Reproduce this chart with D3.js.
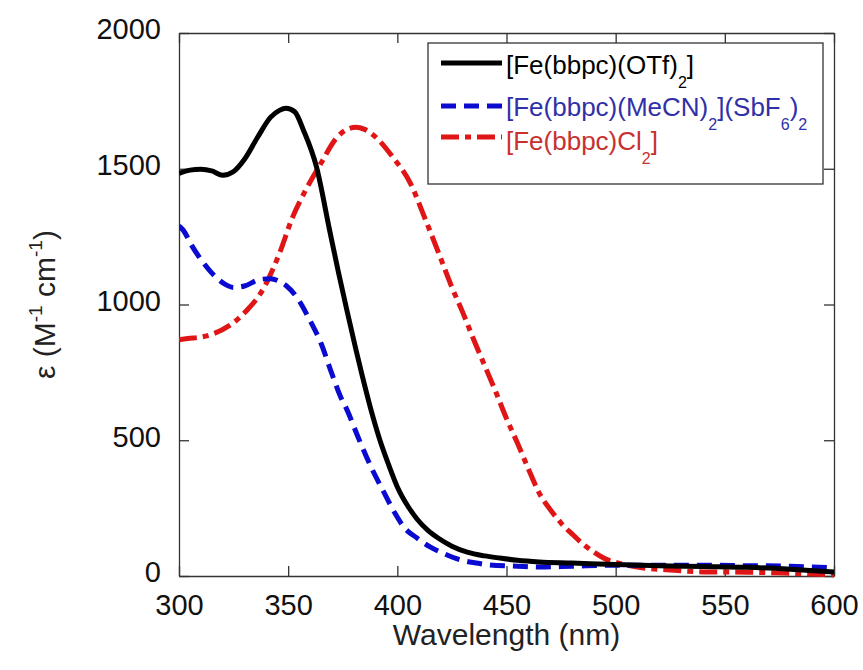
<!DOCTYPE html>
<html>
<head>
<meta charset="utf-8">
<script src="https://cdn.jsdelivr.net/npm/d3@7"></script>
<style>
  body { margin: 0; background: #fff; }
  text { font-family: Arial, "Liberation Sans", sans-serif; }
</style>
</head>
<body>
<svg id="chart" width="863" height="670"></svg>
<script>
// wavelengths (nm) and extinction (M-1 cm-1)
var otfNm  = [300,305,310,315,320,325,330,336,342,346,349,353,357,363,369,373,377,381,384,388,392,396,400,405,409,414,419,425,432,440,447,455,465,480,500,520,540,560,580,600];
var otfEps = [1483,1495,1498,1492,1476,1490,1535,1616,1690,1715,1723,1710,1642,1506,1273,1120,975,835,735,610,501,410,328,255,210,168,138,110,88,74,66,58,52,48,42,38,35,32,25,15];

var mecnNm  = [300,302,306,311,317,321,325,330,337,342,346,349,354,360,365,370,374,377,382,388,394,399,403,409,415,422,429,436,442,455,465,480,500,520,540,560,580,600];
var mecnEps = [1290,1273,1215,1155,1100,1075,1063,1068,1092,1095,1085,1070,1026,941,858,745,660,611,512,401,306,230,180,140,107,80,59,48,41,36,33,36,40,40,40,38,36,30];

var clNm  = [300,304,310,316,323,331,339,346,352,358,365,372,377,381,385,389,398,406,413,419,425,430,435,440,445,450,455,460,465,470,475,480,485,490,495,500,505,512,525,540,560,580,600];
var clEps = [870,875,880,893,922,978,1063,1188,1321,1421,1520,1612,1645,1653,1645,1624,1542,1446,1310,1188,1063,970,870,775,680,580,490,395,305,245,195,155,118,88,64,50,40,30,22,15,14,10,4];

var xTicks = [300,350,400,450,500,550,600];
var yTicks = [0,500,1000,1500,2000];

var seriesNames = ["otf", "mecn", "cl"];
var seriesColors = ["#000000", "#0a0ad0", "#e01515"];
var seriesDash = [null, "15,8", "18,6,6,6"];

var svg = d3.select("#chart");
var pL = 179, pR = 834, pT = 33, pB = 576;

var x = d3.scaleLinear().domain([300, 600]).range([pL, pR]);
var y = d3.scaleLinear().domain([0, 2000]).range([pB, pT]);

svg.append("defs").append("clipPath").attr("id", "clip")
  .append("rect").attr("x", pL).attr("y", pT - 5)
  .attr("width", pR - pL).attr("height", pB - pT + 10);

// axes with inward ticks on all four sides
var axisColor = "#333";
var tickLen = 10;
var fmt = d3.format("d");

var gx = svg.append("g").attr("transform", "translate(0," + pB + ")")
  .call(d3.axisBottom(x).tickValues(xTicks).tickFormat(fmt).tickSizeInner(-tickLen).tickSizeOuter(0).tickPadding(18));
var gxt = svg.append("g").attr("transform", "translate(0," + pT + ")")
  .call(d3.axisTop(x).tickValues(xTicks).tickSizeInner(-tickLen).tickSizeOuter(0).tickFormat(""));
var gy = svg.append("g").attr("transform", "translate(" + pL + ",0)")
  .call(d3.axisLeft(y).tickValues(yTicks).tickFormat(fmt).tickSizeInner(-tickLen).tickSizeOuter(0).tickPadding(18));
var gyr = svg.append("g").attr("transform", "translate(" + pR + ",0)")
  .call(d3.axisRight(y).tickValues(yTicks).tickSizeInner(-tickLen).tickSizeOuter(0).tickFormat(""));

[gx, gxt, gy, gyr].forEach(function(g) {
  g.select(".domain").attr("stroke", axisColor).attr("stroke-width", 1.3);
  g.selectAll(".tick line").attr("stroke", axisColor).attr("stroke-width", 1.3);
});
gx.selectAll(".tick text").attr("font-size", 29).attr("fill", "#111")
  .attr("font-family", "Arial, 'Liberation Sans', sans-serif");
gy.selectAll(".tick text").attr("font-size", 29).attr("fill", "#111")
  .attr("font-family", "Arial, 'Liberation Sans', sans-serif").attr("dy", "0.2em");

// curves
var line = d3.line()
  .x(function(d) { return x(d[0]); })
  .y(function(d) { return y(d[1]); })
  .curve(d3.curveMonotoneX);

var allSeries = [
  d3.zip(otfNm, otfEps),
  d3.zip(mecnNm, mecnEps),
  d3.zip(clNm, clEps)
];

var plot = svg.append("g").attr("clip-path", "url(#clip)");
// red first, then blue, black on top
[2, 1, 0].forEach(function(i) {
  plot.append("path")
    .datum(allSeries[i])
    .attr("class", seriesNames[i])
    .attr("fill", "none")
    .attr("stroke", seriesColors[i])
    .attr("stroke-width", 5)
    .attr("stroke-dasharray", seriesDash[i])
    .attr("d", line);
});

// axis titles
svg.append("text")
  .attr("x", (pL + pR) / 2).attr("y", 645)
  .attr("text-anchor", "middle").attr("font-size", 30).attr("fill", "#222")
  .text("Wavelength (nm)");

var yl = svg.append("text")
  .attr("transform", "translate(55," + ((pT + pB) / 2) + ") rotate(-90)")
  .attr("text-anchor", "middle").attr("font-size", 30).attr("fill", "#222");
yl.append("tspan").text("\u03b5 (M");
yl.append("tspan").attr("dy", -13).attr("font-size", 19).text("-1");
yl.append("tspan").attr("dy", 13).text(" cm");
yl.append("tspan").attr("dy", -13).attr("font-size", 19).text("-1");
yl.append("tspan").attr("dy", 13).text(")");

// legend
var legend = svg.append("g");
legend.append("rect")
  .attr("x", 428).attr("y", 43).attr("width", 395).attr("height", 141)
  .attr("fill", "#fff").attr("stroke", "#333").attr("stroke-width", 1.3);

var legendLineY = [63, 106, 137];
var legendBase = [74, 116, 150];
var legendText = ["#000000", "#3030a8", "#c83030"];
var legendParts = [
  [["[Fe(bbpc)(OTf)", 0], ["2", 1], ["]", 0]],
  [["[Fe(bbpc)(MeCN)", 0], ["2", 1], ["](SbF", 0], ["6", 1], [")", 0], ["2", 1]],
  [["[Fe(bbpc)Cl", 0], ["2", 1], ["]", 0]]
];

legendLineY.forEach(function(ly, i) {
  legend.append("line")
    .attr("x1", 441).attr("x2", 502).attr("y1", ly).attr("y2", ly)
    .attr("stroke", seriesColors[i]).attr("stroke-width", 5)
    .attr("stroke-dasharray", seriesDash[i]);
  var t = legend.append("text")
    .attr("x", 506).attr("y", legendBase[i])
    .attr("font-size", 26).attr("fill", legendText[i]);
  var shifted = false;
  legendParts[i].forEach(function(p) {
    var ts = t.append("tspan").text(p[0]);
    if (p[1]) {
      ts.attr("font-size", 16);
      if (!shifted) { ts.attr("dy", 14); shifted = true; }
    } else if (shifted) {
      ts.attr("dy", -14); shifted = false;
    }
  });
});
</script>
</body>
</html>
